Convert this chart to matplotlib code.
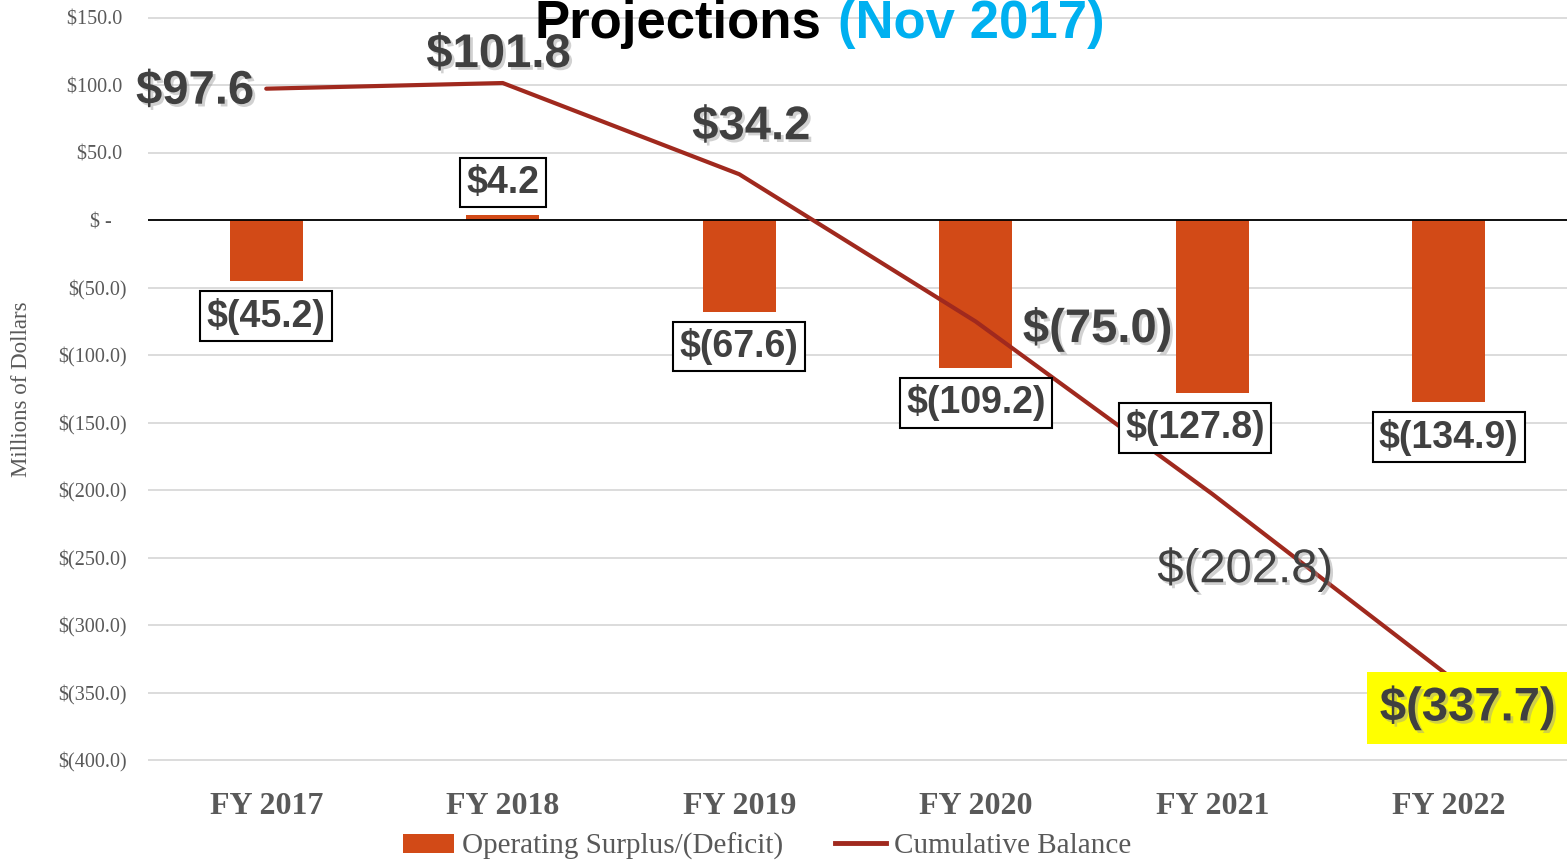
import matplotlib
matplotlib.use("Agg")
import matplotlib.pyplot as plt
import matplotlib.patheffects as pe
from matplotlib.ticker import FuncFormatter, MultipleLocator
from matplotlib.patches import Patch
from matplotlib.lines import Line2D

# ---- data ----
categories = ["FY 2017", "FY 2018", "FY 2019", "FY 2020", "FY 2021", "FY 2022"]
operating = [-45.2, 4.2, -67.6, -109.2, -127.8, -134.9]
cumulative = [97.6, 101.8, 34.2, -75.0, -202.8, -337.7]
bar_labels = ["$(45.2)", "$4.2", "$(67.6)", "$(109.2)", "$(127.8)", "$(134.9)"]
line_labels = ["$97.6", "$101.8", "$34.2", "$(75.0)", "$(202.8)", "$(337.7)"]
series_names = ["Operating Surplus/(Deficit)", "Cumulative Balance"]
title_main = "Projections"
title_sub = "(Nov 2017)"
y_axis_label = "Millions of Dollars"

# ---- styles ----
BAR_C = "#D24A17"
LINE_C = "#A0291E"
LABEL_C = "#404040"
TICK_C = "#595959"
SERIF = "Liberation Serif"
SANS = "Liberation Sans"

W, H = 1567, 861
fig = plt.figure(figsize=(W / 100, H / 100), dpi=100)
ax = fig.add_axes([148 / W, 1 - 761.35 / H, (W - 148) / W, (761.35 - 16.65) / H])

x = list(range(len(categories)))
ax.bar(x, operating, width=0.31, color=BAR_C, zorder=2)
ax.plot(x, cumulative, color=LINE_C, lw=3, zorder=3, solid_capstyle="round")
ax.axhline(0, color="black", lw=1.3, zorder=2.5)

ax.set_xlim(-0.5, 5.5)
ax.set_ylim(-401, 151)
ax.yaxis.set_major_locator(MultipleLocator(50))


def fmt(v, pos):
    if abs(v) < 1e-9:
        return "$ -   "
    if v < 0:
        return "$(%.1f)" % (-v)
    return "$%.1f " % v


ax.yaxis.set_major_formatter(FuncFormatter(fmt))
ax.grid(axis="y", color="#D9D9D9", lw=1.3, zorder=0)
ax.set_axisbelow(True)
for s in ax.spines.values():
    s.set_visible(False)
ax.tick_params(axis="both", length=0)
ax.tick_params(axis="y", pad=15, labelsize=14.5, labelcolor=TICK_C)
for t in ax.get_yticklabels():
    t.set_fontfamily(SERIF)
ax.set_xticks(x)
ax.set_xticklabels(categories, fontfamily=SERIF, fontweight="bold", fontsize=23, color=TICK_C)
ax.tick_params(axis="x", pad=22)

ax.set_ylabel(y_axis_label, fontfamily=SERIF, fontsize=16.5, color=TICK_C)
ax.yaxis.set_label_coords(-0.082, 0.50)

shadow = [pe.SimplePatchShadow(offset=(2, -2), shadow_rgbFace="#999999", alpha=0.45), pe.Normal()]

# bar labels (boxed)
bar_offsets = [(0, -35), (0, 32), (0, -35), (0, -35), (-17, -35), (0, -35)]
for i, (v, lab) in enumerate(zip(operating, bar_labels)):
    ax.annotate(lab, (x[i], v), xytext=bar_offsets[i], textcoords="offset pixels",
                ha="center", va="center", fontsize=27, fontweight="bold",
                fontfamily=SANS, color=LABEL_C, zorder=5,
                bbox=dict(boxstyle="square,pad=0.17", fc="white", ec="black", lw=1.5))

# line labels
line_offsets = [(-12, -3), (-4, 28), (12, 47), (122, -8), (33, -76), (19, -32)]
line_ha = ["right", "center", "center", "center", "center", "center"]
line_weights = ["bold", "bold", "bold", "bold", "normal", "bold"]
for i, (v, lab) in enumerate(zip(cumulative, line_labels)):
    kw = {}
    if i == len(cumulative) - 1:
        kw["bbox"] = dict(boxstyle="square,pad=0.28", fc="#FFFF00", ec="none")
    ax.annotate(lab, (x[i], v), xytext=line_offsets[i], textcoords="offset pixels",
                ha=line_ha[i], va="center", fontsize=34, fontweight=line_weights[i],
                fontfamily=SANS, color=LABEL_C, zorder=6, path_effects=shadow,
                annotation_clip=False, **kw)

# title (two colours)
fig.text(535 / W, 1 - 38 / H, title_main, ha="left", va="baseline",
         fontsize=38, fontweight="bold", fontfamily=SANS, color="black")
fig.text(838 / W, 1 - 38 / H, title_sub, ha="left", va="baseline",
         fontsize=38, fontweight="bold", fontfamily=SANS, color="#00B0F0")

# legend
handles = [Patch(facecolor=BAR_C, edgecolor="none"),
           Line2D([0], [0], color=LINE_C, lw=3.5)]
leg = fig.legend(handles, series_names, loc="center", bbox_to_anchor=(767 / W, 1 - 846 / H),
                 ncol=2, frameon=False, prop={"family": SERIF, "size": 21},
                 handlelength=1.75, handleheight=0.62, handletextpad=0.25, columnspacing=1.8)
for t in leg.get_texts():
    t.set_color(TICK_C)

fig.savefig("out.png", dpi=100)
